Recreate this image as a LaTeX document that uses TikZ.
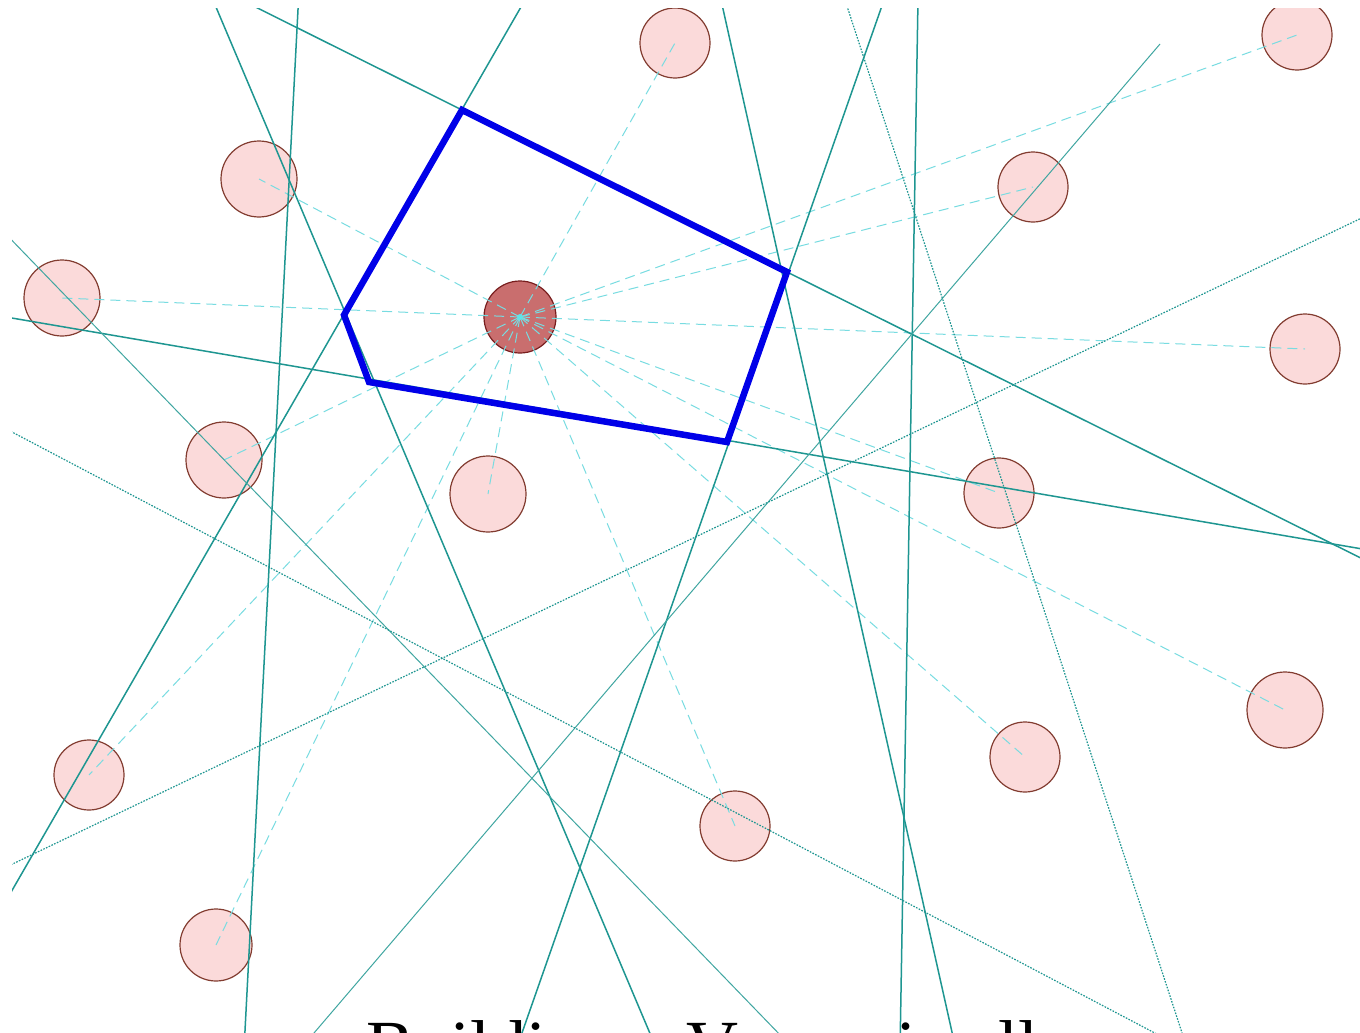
\documentclass[tikz,border=0pt]{standalone}
\usepackage{fontspec}
\setmainfont{Liberation Serif}
\definecolor{tealline}{RGB}{30,150,145}
\definecolor{spokecol}{RGB}{120,220,225}
\definecolor{sitefill}{RGB}{251,218,218}
\definecolor{sitedraw}{RGB}{130,60,48}
\definecolor{centerfill}{RGB}{201,110,110}
\definecolor{centerdraw}{RGB}{120,30,30}
\definecolor{cellblue}{RGB}{0,0,232}
\tikzset{
  site/.style={circle, draw=sitedraw, fill=sitefill, line width=1.2pt, minimum size=#1, inner sep=0pt},
  site/.default=70pt,
  centersite/.style={circle, draw=centerdraw, fill=centerfill, line width=1.2pt, minimum size=72pt, inner sep=0pt},
  spoke/.style={spokecol, line width=1pt, dash pattern=on 10pt off 6pt},
  bisect/.style={tealline, line width=1.5pt},
  bisectthin/.style={tealline!85, line width=1pt},
  bisectdot/.style={tealline, line width=1.2pt, dash pattern=on 1.6pt off 1.4pt},
  cell/.style={cellblue, line width=6.5pt, line join=miter},
}
\begin{document}
\begin{tikzpicture}[x=1pt,y=-1pt]
\useasboundingbox (0,0) rectangle (1360,1033);
\fill[white] (0,0) rectangle (1360,1033);
\begin{scope}
\clip (12,9) rectangle (1361,1034);
% sites
\node[site=70pt] (s1) at (675,43) {};
\node[site=70pt] (s2) at (1297,35) {};
\node[site=76pt] (s3) at (259,179) {};
\node[site=70pt] (s4) at (1033,187) {};
\node[site=76pt] (s5) at (62,298) {};
\node[site=70pt] (s7) at (1305,349) {};
\node[site=76pt] (s8) at (224,460) {};
\node[site=76pt] (s9) at (488,494) {};
\node[site=70pt] (s10) at (999,493) {};
\node[site=76pt] (s11) at (1285,710) {};
\node[site=70pt] (s12) at (1025,757) {};
\node[site=70pt] (s13) at (89,775) {};
\node[site=70pt] (s14) at (735,826) {};
\node[site=72pt] (s15) at (216,945) {};
\node[centersite] (c) at (520,317) {};
% spokes
\foreach \s in {s1,s2,s3,s4,s5,s7,s8,s9,s10,s11,s12,s13,s14,s15}
  \draw[spoke] (c.center) -- (\s.center);
% bisector lines
\draw[bisect] (240,-0.7) -- (1380,567.6);
\draw[bisect] (525,0) -- (-5,920);
\draw[bisect] (0,316) -- (1380,552);
\draw[bisect] (213,0) -- (657,1050);
\draw[bisect] (721,0) -- (956,1050);
\draw[bisect] (884,0) -- (516,1050);
\draw[bisect] (918,0) -- (900,1050);
\draw[bisect] (298.5,0) -- (244,1050);
\draw[bisectthin] (1160,44) -- (308,1040);
\draw[bisectthin] (0,228) -- (785,1040);
\draw[bisectdot] (0,425.7) -- (1170,1041);
\draw[bisectdot] (0,870) -- (1370,214);
\draw[bisectdot] (845,0) -- (1185,1042);
% Voronoi cell
\coordinate (v1) at (462,110);
\coordinate (v2) at (787,272);
\coordinate (v3) at (727,442);
\coordinate (v4) at (369,382);
\coordinate (v5) at (344,315);
\draw[cell] (v1) -- (v2) -- (v3) -- (v4) -- (v5) -- cycle;
\fill[spokecol!80!cyan] (c.center) circle (3pt);
% title
\node[anchor=base west, inner sep=0pt, font=\fontsize{72}{80}\selectfont] (title) at (366,1070) {Building a Voronoi cell};
\end{scope}
\end{tikzpicture}
\end{document}
